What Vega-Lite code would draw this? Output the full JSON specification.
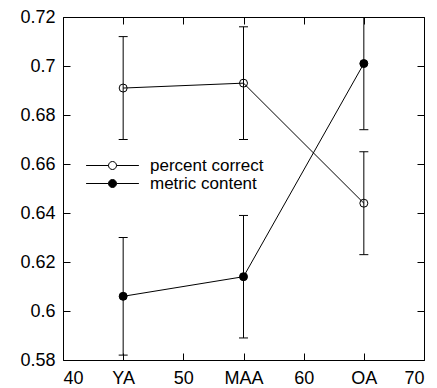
{
  "$schema": "https://vega.github.io/schema/vega-lite/v6.json",
  "width": 361,
  "height": 343,
  "autosize": "none",
  "padding": {"left": 63, "top": 17, "right": 13, "bottom": 28},
  "background": "white",
  "config": {
    "view": {"stroke": "black", "strokeWidth": 1},
    "font": "Liberation Sans",
    "axis": {
      "domain": false,
      "grid": false,
      "tickColor": "black",
      "tickSize": -7,
      "tickWidth": 1,
      "labelFont": "Liberation Sans",
      "labelFontSize": 18,
      "labelColor": "black",
      "title": null
    }
  },
  "data": {
    "values": [
      {"group": "YA", "age": 45, "series": "percent correct", "value": 0.691, "lo": 0.670, "hi": 0.712},
      {"group": "MAA", "age": 55, "series": "percent correct", "value": 0.693, "lo": 0.670, "hi": 0.716},
      {"group": "OA", "age": 65, "series": "percent correct", "value": 0.644, "lo": 0.623, "hi": 0.665},
      {"group": "YA", "age": 45, "series": "metric content", "value": 0.606, "lo": 0.582, "hi": 0.630},
      {"group": "MAA", "age": 55, "series": "metric content", "value": 0.614, "lo": 0.589, "hi": 0.639},
      {"group": "OA", "age": 65, "series": "metric content", "value": 0.701, "lo": 0.674, "hi": 0.728}
    ]
  },
  "layer": [
    {
      "mark": {"type": "rule", "color": "black", "strokeWidth": 1, "clip": true},
      "encoding": {
        "x": {
          "field": "age", "type": "quantitative",
          "scale": {"domain": [40, 70], "nice": false, "zero": false},
          "axis": {
            "orient": "bottom",
            "values": [40, 45, 50, 55, 60, 65, 70],
            "labelExpr": "datum.value == 45 ? 'YA' : datum.value == 55 ? 'MAA' : datum.value == 65 ? 'OA' : datum.label",
            "labelPadding": 16
          }
        },
        "y": {
          "field": "lo", "type": "quantitative",
          "scale": {"domain": [0.58, 0.72], "nice": false, "zero": false},
          "axis": {
            "orient": "left",
            "values": [0.58, 0.6, 0.62, 0.64, 0.66, 0.68, 0.7, 0.72],
            "format": ".2~f",
            "labelPadding": 15
          }
        },
        "y2": {"field": "hi"}
      }
    },
    {
      "mark": {"type": "tick", "orient": "horizontal", "size": 9, "thickness": 1, "color": "black", "opacity": 1, "clip": true},
      "encoding": {
        "x": {"field": "age", "type": "quantitative", "axis": null},
        "y": {"field": "lo", "type": "quantitative", "axis": null}
      }
    },
    {
      "mark": {"type": "tick", "orient": "horizontal", "size": 9, "thickness": 1, "color": "black", "opacity": 1, "clip": true},
      "encoding": {
        "x": {"field": "age", "type": "quantitative", "axis": null},
        "y": {"field": "hi", "type": "quantitative", "axis": null}
      }
    },
    {
      "mark": {"type": "line", "color": "black", "strokeWidth": 1},
      "encoding": {
        "x": {"field": "age", "type": "quantitative", "axis": {"orient": "top", "labels": false, "values": [40, 45, 50, 55, 60, 65, 70]}},
        "y": {"field": "value", "type": "quantitative", "axis": {"orient": "right", "labels": false, "values": [0.58, 0.6, 0.62, 0.64, 0.66, 0.68, 0.7, 0.72]}},
        "detail": {"field": "series", "type": "nominal"}
      }
    },
    {
      "mark": {"type": "point", "shape": "circle", "size": 64, "filled": true, "stroke": "black", "strokeWidth": 1, "opacity": 1},
      "encoding": {
        "x": {"field": "age", "type": "quantitative", "axis": null},
        "y": {"field": "value", "type": "quantitative", "axis": null},
        "fill": {
          "field": "series", "type": "nominal",
          "scale": {"domain": ["percent correct", "metric content"], "range": ["transparent", "black"]},
          "legend": {
            "orient": "none",
            "legendX": 41,
            "legendY": 140,
            "title": null,
            "padding": 0,
            "symbolType": "M-6.6,0L-1,0M1,0L6.6,0M1,0A1,1,0,1,1,-1,0A1,1,0,1,1,1,0Z",
            "symbolSize": 64,
            "symbolStrokeColor": "black",
            "symbolStrokeWidth": 1,
            "symbolOpacity": 1,
            "labelFont": "Liberation Sans",
            "labelFontSize": 17,
            "labelColor": "black",
            "labelOffset": 29,
            "rowPadding": 0
          }
        }
      }
    }
  ],
  "resolve": {"axis": {"x": "independent", "y": "independent"}}
}
